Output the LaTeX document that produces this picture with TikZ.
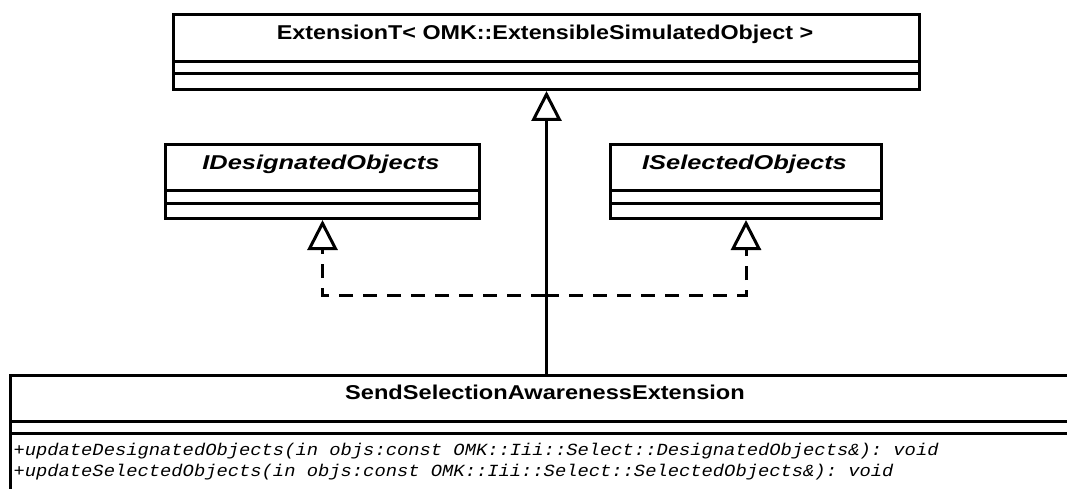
\documentclass[tikz,border=0pt]{standalone}
\usepackage{graphicx}
\usepackage{fontspec}
\setmainfont{Liberation Sans}
\setmonofont{Liberation Mono}
\usetikzlibrary{arrows.meta}
\begin{document}
\begin{tikzpicture}[x=1pt,y=-1pt,line width=3pt,
  title/.style={font=\fontsize{20}{22}\selectfont\bfseries, anchor=base, inner sep=0pt},
  ititle/.style={font=\fontsize{20}{22}\selectfont\bfseries\itshape, anchor=base, inner sep=0pt},
  member/.style={font=\fontsize{17}{20}\selectfont\ttfamily\itshape, anchor=base west, inner sep=0pt},
  box/.style={draw, line width=3pt, rectangle, inner sep=0pt, anchor=north west},
  gen/.style={-{Triangle[open,width=30pt,length=30pt,line width=3pt]}},
  real/.style={gen, dash pattern=on 14pt off 10pt}]
\useasboundingbox (0,0) rectangle (1067,489);
\clip (0,0) rectangle (1067,489);
\fill[white] (0,0) rectangle (1067,489);
% top class
\node[box, minimum width=746pt, minimum height=75pt] (ext) at (172,13) {};
\draw (172,62) -- (918,62);
\draw (172,74) -- (918,74);
\node[title] (extT) at (545,39.5) {\scalebox{1.166}[1]{ExtensionT< OMK::ExtensibleSimulatedObject >}};
% interfaces
\node[box, minimum width=314pt, minimum height=74pt] (ides) at (164,143) {};
\draw (164,190) -- (478,190);
\draw (164,203) -- (478,203);
\node[ititle] (idesT) at (321,169.5) {\scalebox{1.27}[1]{IDesignatedObjects}};
\node[box, minimum width=271pt, minimum height=74pt] (isel) at (609,143) {};
\draw (609,190) -- (880,190);
\draw (609,203) -- (880,203);
\node[ititle] (iselT) at (744.5,169.5) {\scalebox{1.27}[1]{ISelectedObjects}};
% bottom class
\node[box, minimum width=1072pt, minimum height=140pt] (send) at (9,374) {};
\draw (9,421) -- (1081,421);
\draw (9,433) -- (1081,433);
\node[title] (sendT) at (545,399.5) {\scalebox{1.18}[1]{SendSelectionAwarenessExtension}};
\node[member] (m1) at (12,455) {\scalebox{1.106}[1]{+updateDesignatedObjects(in objs:const OMK::Iii::Select::DesignatedObjects\&): void}};
\node[member] (m2) at (12,476) {\scalebox{1.106}[1]{+updateSelectedObjects(in objs:const OMK::Iii::Select::SelectedObjects\&): void}};
% connectors
\draw[gen] (send.north) -- (ext.south);
\coordinate (j) at (545,295);
\draw[real] (j) -| (ides.south);
\draw[real] (j) -| (isel.south);
\end{tikzpicture}
\end{document}
